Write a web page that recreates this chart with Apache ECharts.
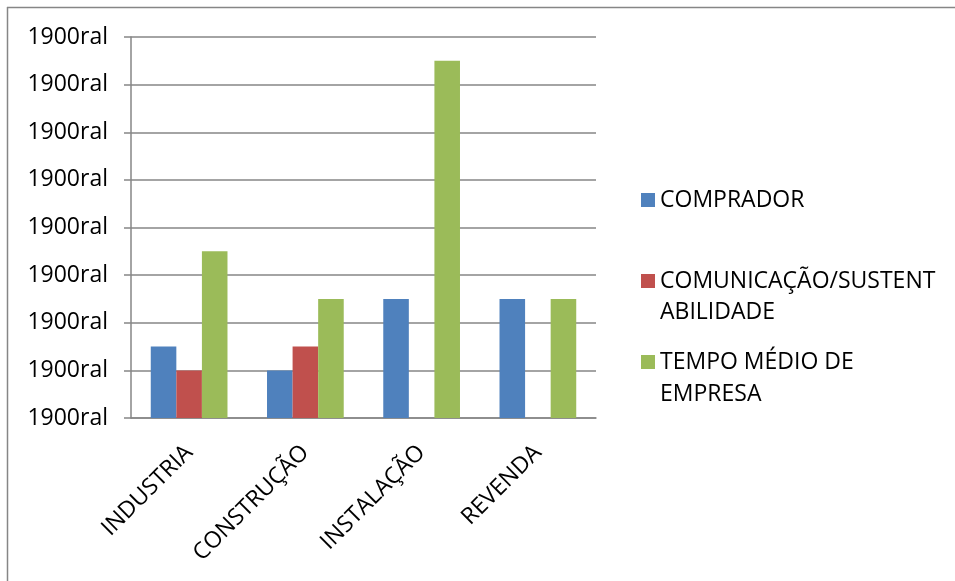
<!DOCTYPE html>
<html lang="pt-BR">
<head>
    <meta charset="UTF-8">
    <title>Gráfico</title>
    <script src="https://cdn.jsdelivr.net/npm/echarts@6.0.0/dist/echarts.min.js"></script>
    <style>
        * { margin: 0; padding: 0; box-sizing: border-box; }
        html, body { width: 100%; height: 100%; background: #fff; overflow: hidden; }
        #chart { width: 955px; height: 581px; }
    </style>
</head>
<body>
    <div id="chart"></div>
    <script>
        // dados
        const categorias = ['INDUSTRIA', 'CONSTRUÇÃO', 'INSTALAÇÃO', 'REVENDA'];
        const comprador = [1.5, 1, 2.5, 2.5];
        const comunicacao = [1, 1.5, 0, 0];
        const tempoMedio = [3.5, 2.5, 7.5, 2.5];
        const rotuloEixo = '1900ral';

        const fonte = '"Open Sans", sans-serif';
        const cinza = '#868686';

        const chart = echarts.init(document.getElementById('chart'), null, { renderer: 'canvas' });

        const serie = (nome, dados, cor) => ({
            name: nome,
            type: 'bar',
            data: dados,
            barGap: 0,
            barCategoryGap: '34%',
            itemStyle: { color: cor },
            animation: false
        });

        chart.setOption({
            animation: false,
            grid: { left: 131, right: 359, top: 37, bottom: 163 },
            legend: {
                orient: 'vertical',
                left: 636,
                top: 179,
                itemWidth: 14,
                itemHeight: 14,
                itemGap: 49,
                icon: 'rect',
                textStyle: { fontFamily: fonte, fontSize: 23, color: '#000', lineHeight: 32 },
                formatter: (n) => ({
                    'COMUNICAÇÃO/SUSTENTABILIDADE': 'COMUNICAÇÃO/SUSTENT',
                    'TEMPO MÉDIO DE EMPRESA': 'TEMPO MÉDIO DE'
                }[n] || n),
                data: ['COMPRADOR', 'COMUNICAÇÃO/SUSTENTABILIDADE', 'TEMPO MÉDIO DE EMPRESA']
            },
            graphic: [
                { type: 'line', shape: { x1: 7, y1: 7.5, x2: 955, y2: 7.5 }, style: { stroke: cinza, lineWidth: 1.5 } },
                { type: 'line', shape: { x1: 7.5, y1: 7, x2: 7.5, y2: 581 }, style: { stroke: cinza, lineWidth: 1.5 } },
                { type: 'text', left: 660, top: 301, style: { text: 'ABILIDADE', font: '23px ' + fonte, fill: '#000' } },
                { type: 'text', left: 660, top: 383, style: { text: 'EMPRESA', font: '23px ' + fonte, fill: '#000' } }
            ],
            xAxis: {
                type: 'category',
                data: categorias,
                axisLine: { lineStyle: { color: cinza, width: 1.5 } },
                axisTick: { length: 8, lineStyle: { color: cinza, width: 1.5 } },
                axisLabel: {
                    rotate: 45,
                    margin: 31,
                    fontFamily: fonte,
                    fontSize: 23,
                    color: '#000'
                }
            },
            yAxis: {
                type: 'value',
                min: 0,
                max: 8,
                interval: 1,
                axisLine: { show: true, lineStyle: { color: cinza, width: 1.5 } },
                axisTick: { show: true, length: 7, lineStyle: { color: cinza, width: 1.5 } },
                splitLine: { lineStyle: { color: cinza, width: 1.5 } },
                axisLabel: {
                    margin: 23,
                    fontFamily: fonte,
                    fontSize: 23,
                    color: '#000',
                    formatter: () => rotuloEixo
                }
            },
            series: [
                serie('COMPRADOR', comprador, '#4F81BD'),
                serie('COMUNICAÇÃO/SUSTENTABILIDADE', comunicacao, '#C0504D'),
                serie('TEMPO MÉDIO DE EMPRESA', tempoMedio, '#9BBB59')
            ]
        });
    </script>
</body>
</html>
